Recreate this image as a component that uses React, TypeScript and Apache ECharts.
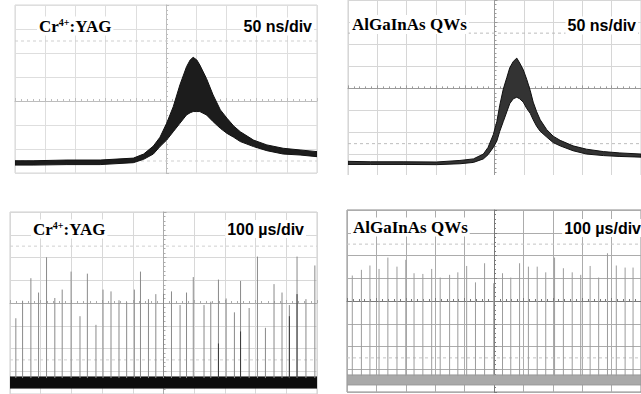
import React, { useEffect, useRef } from "react";
import * as echarts from "echarts";

// ---- Top-left: Cr4+:YAG, 50 ns/div (time in ns from screen centre, amplitude in divisions from centre)
const tlTime = [-250, -220, -164, -109, -54, -37, -21, -10, 1, 12, 23, 34, 40, 45, 51, 56, 67, 78, 90, 101, 112, 123, 145, 167, 194, 222, 250];
const tlUpper = [-2.49, -2.49, -2.46, -2.46, -2.38, -2.21, -1.88, -1.51, -0.93, -0.24, 0.67, 1.43, 1.71, 1.82, 1.71, 1.5, 0.94, 0.25, -0.37, -0.72, -1.04, -1.28, -1.63, -1.83, -1.97, -2.04, -2.11];
const tlLower = [-2.67, -2.67, -2.65, -2.65, -2.57, -2.43, -2.21, -1.9, -1.63, -1.28, -0.93, -0.58, -0.49, -0.44, -0.44, -0.44, -0.58, -0.86, -1.14, -1.35, -1.51, -1.69, -1.9, -2.07, -2.21, -2.25, -2.32];

// ---- Top-right: AlGaInAs QWs, 50 ns/div
const trTime = [-250, -212, -156, -99, -59, -36, -19, -11, -2, 4, 9, 15, 21, 26, 32, 38, 43, 49, 55, 61, 66, 72, 78, 89, 100, 112, 134, 157, 186, 214, 250];
const trUpper = [-3.3, -3.32, -3.32, -3.33, -3.26, -3.19, -2.97, -2.67, -2.09, -1.5, -0.76, -0.03, 0.49, 0.93, 1.22, 1.37, 1.15, 0.85, 0.41, -0.1, -0.62, -1.06, -1.42, -1.86, -2.16, -2.35, -2.6, -2.75, -2.86, -2.92, -2.97];
const trLower = [-3.44, -3.44, -3.44, -3.45, -3.41, -3.35, -3.19, -3.0, -2.67, -2.38, -1.94, -1.5, -1.06, -0.69, -0.47, -0.4, -0.47, -0.62, -0.91, -1.13, -1.42, -1.72, -1.94, -2.2, -2.45, -2.6, -2.82, -2.97, -3.04, -3.08, -3.11];

// ---- Bottom-left: Cr4+:YAG, 100 us/div pulse train
const blPulseTime = [-481, -459, -432, -407, -381, -354, -330, -301, -272, -248, -220, -197, -171, -145, -120, -95, -75, -49, -25, 0, 26, 54, 75, 97, 132, 154, 179, 204, 231, 251, 279, 306, 332, 360, 386, 410, 435, 464, 493];
const blPulsePeak = [-0.67, 0.1, 1.09, 0.46, 2.01, 0.22, 0.59, 1.38, -0.58, 1.29, -0.96, 0.59, 0.51, 0.12, 0.03, 0.59, 1.38, 0.17, 0.39, 0.4, 0.51, -0.09, 0.46, 1.14, -0.09, 0.06, 1.03, 0.2, -0.41, 0.97, -0.22, 2.04, -1.09, 0.83, 0.46, -0.09, 2.04, 0.17, 1.65];
const blOverlayTime = [179, 251, 410, 435];
const blOverlayPeak = [-1.78, -1.25, -0.58, 0.39];
const blNoiseTime = [-500, 500];
const blNoiseLow = [-3.74, -3.74];
const blNoiseHigh = [-3.25, -3.25];

// ---- Bottom-right: AlGaInAs QWs, 100 us/div pulse train
const brPulseTime = [-482, -451, -422, -391, -361, -330, -300, -272, -242, -212, -183, -151, -123, -93, -63, -32, -1, 29, 57, 87, 117, 147, 176, 206, 236, 266, 295, 327, 356, 386, 416, 446, 473];
const brPulsePeak = [1.12, 1.37, 1.56, 1.41, 1.91, 1.51, 1.81, 1.22, 1.19, 1.41, 1.03, 1.15, 1.26, 1.54, 0.82, 1.66, 0.78, 1.22, 1.03, 1.66, 1.51, 1.51, 1.26, 1.91, 1.44, 1.26, 1.15, 1.54, 1.03, 2.1, 1.56, 1.47, 1.47];
const brNoiseTime = [-500, 500];
const brNoiseLow = [-3.69, -3.69];
const brNoiseHigh = [-3.25, -3.25];

const PULSE_BASE = -3.3;
const CURSOR_LEVELS = [2.5, -2.5];

function axesFor(g: number, xMax: number, xInt: number, yMin: number, yMax: number, grid: string, center: string) {
  const common = {
    gridIndex: g,
    type: "value",
    axisLabel: { show: false },
    splitLine: { show: true, lineStyle: { color: grid, width: 1 } },
    axisLine: { show: true, onZero: true, lineStyle: { color: center, width: 1 } },
    axisTick: { show: true, inside: true, length: 3, lineStyle: { color: center } },
    minorTick: { show: true, splitNumber: 5, length: 2, lineStyle: { color: center } },
  };
  return {
    x: { ...common, min: -xMax, max: xMax, interval: xInt },
    y: { ...common, min: yMin, max: yMax, interval: 1 },
  };
}

// filled envelope between lower and upper trace, as one polygon built from the data through the axes
function band(g: number, xs: number[], lo: number[], hi: number[], fill: string, edge: string) {
  return {
    type: "custom",
    xAxisIndex: g,
    yAxisIndex: g,
    silent: true,
    clip: true,
    z: 3,
    data: xs.map((x, i) => [x, lo[i], hi[i]]),
    renderItem: (params: any, api: any) => {
      if (params.dataIndex !== 0) return null;
      const top = xs.map((x, i) => api.coord([x, hi[i]]));
      const bottom = xs.map((x, i) => api.coord([x, lo[i]])).reverse();
      return {
        type: "polygon",
        shape: { points: top.concat(bottom) },
        style: { fill, stroke: edge, lineWidth: 1 },
      };
    },
  };
}

function cursors(g: number, xMax: number, color: string) {
  return CURSOR_LEVELS.map((v) => ({
    type: "line",
    xAxisIndex: g,
    yAxisIndex: g,
    silent: true,
    symbol: "none",
    z: 2,
    data: [
      [-xMax, v],
      [xMax, v],
    ],
    lineStyle: { color, type: [3, 3], width: 1 },
  }));
}

function pulses(g: number, xs: number[], peaks: number[], color: string, z: number) {
  return {
    type: "custom",
    xAxisIndex: g,
    yAxisIndex: g,
    silent: true,
    z,
    data: xs.map((x, i) => [x, peaks[i]]),
    renderItem: (_p: any, api: any) => {
      const a = api.coord([api.value(0), PULSE_BASE]);
      const b = api.coord([api.value(0), api.value(1)]);
      return {
        type: "line",
        shape: { x1: a[0], y1: a[1], x2: b[0], y2: b[1] },
        style: { stroke: color, lineWidth: 1 },
      };
    },
  };
}

const SERIF = "'Liberation Serif', 'Times New Roman', serif";
const SANS = "'Liberation Sans', Arial, sans-serif";

function nameLabel(x: number, y: number, withSup: boolean, name: string) {
  const text = withSup ? "{a|Cr}{s|4+}{a|:YAG}" : `{a|${name}}`;
  return {
    type: "text",
    x: x - 2,
    y,
    z: 100,
    style: {
      text,
      verticalAlign: "middle",
      align: "left",
      backgroundColor: "#fff",
      padding: [1, 2],
      rich: {
        a: { fontFamily: SERIF, fontSize: 17, fontWeight: "bold", lineHeight: 17, fill: "#000" },
        s: { fontFamily: SERIF, fontSize: 10, fontWeight: "bold", lineHeight: 10, verticalAlign: "top", fill: "#000" },
      },
    },
  };
}

function scaleLabel(xRight: number, y: number, text: string) {
  return {
    type: "text",
    x: xRight + 2,
    y,
    z: 100,
    style: {
      text,
      align: "right",
      verticalAlign: "middle",
      fontFamily: SANS,
      fontSize: 16,
      fontWeight: "bold",
      fill: "#000",
      backgroundColor: "#fff",
      padding: [1, 2],
    },
  };
}

export default function App() {
  const ref = useRef<HTMLDivElement>(null);
  useEffect(() => {
    if (!ref.current) return;
    const chart = echarts.init(ref.current, undefined, { renderer: "svg" });
    const a0 = axesFor(0, 250, 50, -3, 4, "#dedede", "#bdbdbd");
    const a1 = axesFor(1, 250, 50, -4, 4, "#d6d6d6", "#9a9a9a");
    const a2 = axesFor(2, 500, 100, -4, 4, "#d8d8d8", "#ababab");
    const a3 = axesFor(3, 500, 100, -4, 4, "#acacac", "#7a7a7a");
    chart.setOption({
      animation: false,
      backgroundColor: "#fff",
      grid: [
        { left: 15, top: 5, width: 302, height: 168, show: true, borderColor: "#d6d6d6", borderWidth: 1 },
        { left: 348, top: -4.8, width: 293, height: 181.6, show: true, borderColor: "#d0d0d0", borderWidth: 1 },
        { left: 10, top: 212, width: 307, height: 182, show: true, borderColor: "#cfcfcf", borderWidth: 1 },
        { left: 347, top: 210, width: 302, height: 182, show: true, borderColor: "#8a8a8a", borderWidth: 1 },
      ],
      xAxis: [a0.x, a1.x, a2.x, a3.x],
      yAxis: [a0.y, a1.y, a2.y, a3.y],
      series: [
        ...cursors(0, 250, "#cfcfcf"),
        band(0, tlTime, tlLower, tlUpper, "#1c1c1c", "#111"),
        ...cursors(1, 250, "#bdbdbd"),
        band(1, trTime, trLower, trUpper, "#333", "#111"),
        ...cursors(2, 500, "#d0d0d0"),
        band(2, blNoiseTime, blNoiseLow, blNoiseHigh, "#0d0d0d", "#111"),
        pulses(2, blPulseTime, blPulsePeak, "#8a8a8a", 4),
        pulses(2, blOverlayTime, blOverlayPeak, "#3a3a3a", 5),
        ...cursors(3, 500, "#c4c4c4"),
        band(3, brNoiseTime, brNoiseLow, brNoiseHigh, "#a9a9a9", "#9a9a9a"),
        pulses(3, brPulseTime, brPulsePeak, "#9c9c9c", 4),
      ],
      graphic: [
        { type: "rect", z: 90, shape: { x: 340, y: 175, width: 310, height: 12 }, style: { fill: "#fff" } },
        nameLabel(39, 26, true, ""),
        scaleLabel(312, 26.5, "50 ns/div"),
        nameLabel(352, 24.5, false, "AlGaInAs QWs"),
        scaleLabel(636, 25.5, "50 ns/div"),
        nameLabel(33, 229, true, ""),
        scaleLabel(304, 229, "100 µs/div"),
        nameLabel(353, 227, false, "AlGaInAs QWs"),
        scaleLabel(641, 228, "100 µs/div"),
      ],
    });
    return () => chart.dispose();
  }, []);
  return (
    <div
      ref={ref}
      style={{ position: "fixed", left: 0, top: 0, width: 641, height: 394, background: "#fff" }}
    />
  );
}
